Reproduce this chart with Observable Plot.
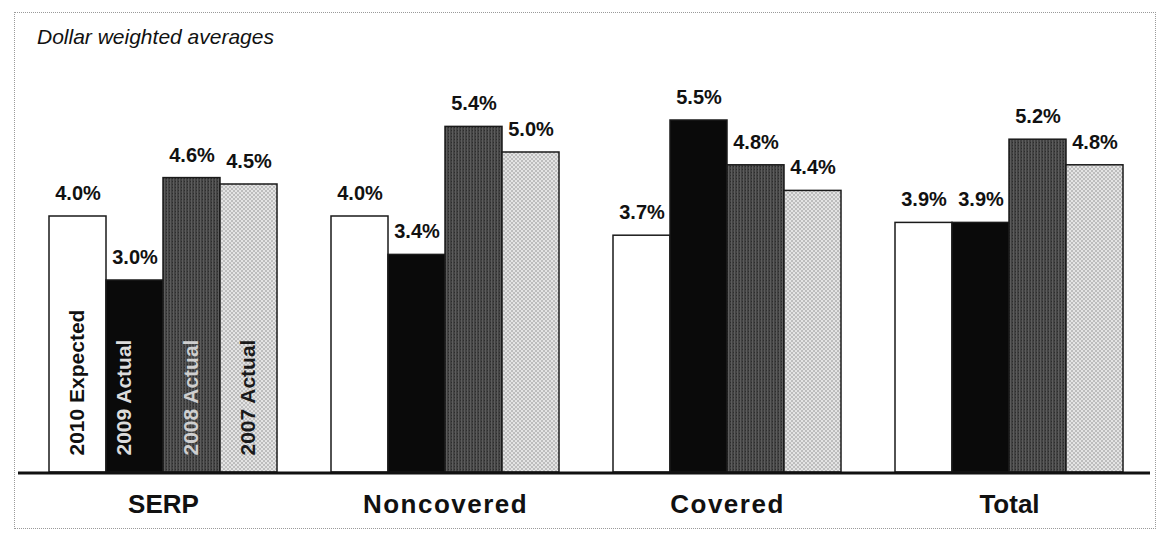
<!DOCTYPE html>
<html>
<head>
<meta charset="utf-8">
<script src="https://cdn.jsdelivr.net/npm/d3@7"></script>
<script src="https://cdn.jsdelivr.net/npm/@observablehq/plot@0.6"></script>
<style>
  html, body { margin: 0; padding: 0; background: #fff; }
  #wrap { position: relative; width: 1159px; height: 543px; overflow: hidden; font-family: "Liberation Sans", Arial, sans-serif; }
  #frame { position: absolute; left: 14px; top: 12px; width: 1142px; height: 517px; border: 1px dotted #9a9a9a; box-sizing: border-box; }
  #title { position: absolute; left: 37px; top: 26px; font-size: 21px; line-height: 21px; font-style: italic; color: #111; }
  #chart { position: absolute; left: 0; top: 0; }
</style>
</head>
<body>
<div id="wrap">
  <div id="frame"></div>
  <div id="chart"></div>
  <div id="title">Dollar weighted averages</div>
</div>
<script>
const groups = ["SERP", "Noncovered", "Covered", "Total"];
const series = ["2010 Expected", "2009 Actual", "2008 Actual", "2007 Actual"];
const v2010 = [4.0, 4.0, 3.7, 3.9];
const v2009 = [3.0, 3.4, 5.5, 3.9];
const v2008 = [4.6, 5.4, 4.8, 5.2];
const v2007 = [4.5, 5.0, 4.4, 4.8];
const seriesValues = [v2010, v2009, v2008, v2007];

const fills = ["#ffffff", "#0a0a0a", "url(#p2008)", "url(#p2007)"];
const legendColors = ["#111111", "#dcdcdc", "#cfcfcf", "#1a1a1a"];

const data = [];
groups.forEach((g, gi) => series.forEach((s, si) => data.push({group: g, series: s, value: seriesValues[si][gi], fill: fills[si]})));

const legend = series.map((s, si) => ({series: s, color: legendColors[si]}));

const font = "Liberation Sans, Arial, sans-serif";

const plot = Plot.plot({
  width: 1159,
  height: 543,
  marginLeft: 20,
  marginRight: 6,
  marginTop: 88,
  marginBottom: 71,
  style: {fontFamily: font, background: "transparent"},
  fx: {domain: groups, paddingInner: 0.19, paddingOuter: 0.099, axis: null, label: null},
  x: {domain: series, padding: 0, axis: null},
  y: {domain: [0, 6], axis: null},
  color: {type: "identity"},
  marks: [
    Plot.barY(data, {fx: "group", x: "series", y: "value", fill: "fill", stroke: "#1a1a1a", strokeWidth: 1.5}),
    Plot.text(data, {fx: "group", x: "series", y: "value", text: d => d3.format(".1f")(d.value) + "%", dy: -23, fontSize: 20, fontWeight: "bold", fill: "#111", fontFamily: font}),
    Plot.text(legend.filter(d => d.series !== "2009 Actual"), {fx: () => "SERP", x: "series", y: () => 0, text: "series", rotate: -90, textAnchor: "start", dy: -17, dx: -1, fontSize: 21, fontWeight: "bold", fill: "color", fontFamily: font}),
    Plot.text(legend.filter(d => d.series === "2009 Actual"), {fx: () => "SERP", x: "series", y: () => 0, text: "series", rotate: -90, textAnchor: "start", dy: -17, dx: -11, fontSize: 21, fontWeight: "bold", fill: "color", fontFamily: font}),
    Plot.text(groups, {fx: d => d, text: d => d, frameAnchor: "bottom", dy: 40, fontSize: 26, fontWeight: "bold", fill: "#111", fontFamily: font})
  ]
});

plot.insertAdjacentHTML("afterbegin", `
<defs>
  <pattern id="p2008" patternUnits="userSpaceOnUse" width="3" height="3">
    <rect width="3" height="3" fill="#434343"></rect>
    <rect x="0" y="0" width="1" height="3" fill="#5c5c5c"></rect>
    <rect x="2" y="1" width="1" height="1" fill="#2c2c2c"></rect>
  </pattern>
  <pattern id="p2007" patternUnits="userSpaceOnUse" width="4" height="4">
    <rect width="4" height="4" fill="#bdbdbd"></rect>
    <rect x="0" y="0" width="2" height="2" fill="#e4e4e4"></rect>
    <rect x="2" y="2" width="2" height="2" fill="#e4e4e4"></rect>
  </pattern>
</defs>`);

// Continuous baseline across all groups, positioned via the plot's own scales
const yScale = plot.scale("y");
const fxScale = plot.scale("fx");
const y0 = yScale.apply(0);
const [r0, r1] = fxScale.range;
d3.select(plot).append("line")
  .attr("x1", r0 - 2).attr("x2", r1 - 3)
  .attr("y1", y0 + 1).attr("y2", y0 + 1)
  .attr("stroke", "#111").attr("stroke-width", 3);

d3.select(plot).selectAll("text").each(function() {
  const t = this.textContent;
  if (t === "Noncovered" || t === "Covered") this.setAttribute("letter-spacing", "1.5");
});

document.getElementById("chart").appendChild(plot);
</script>
</body>
</html>
